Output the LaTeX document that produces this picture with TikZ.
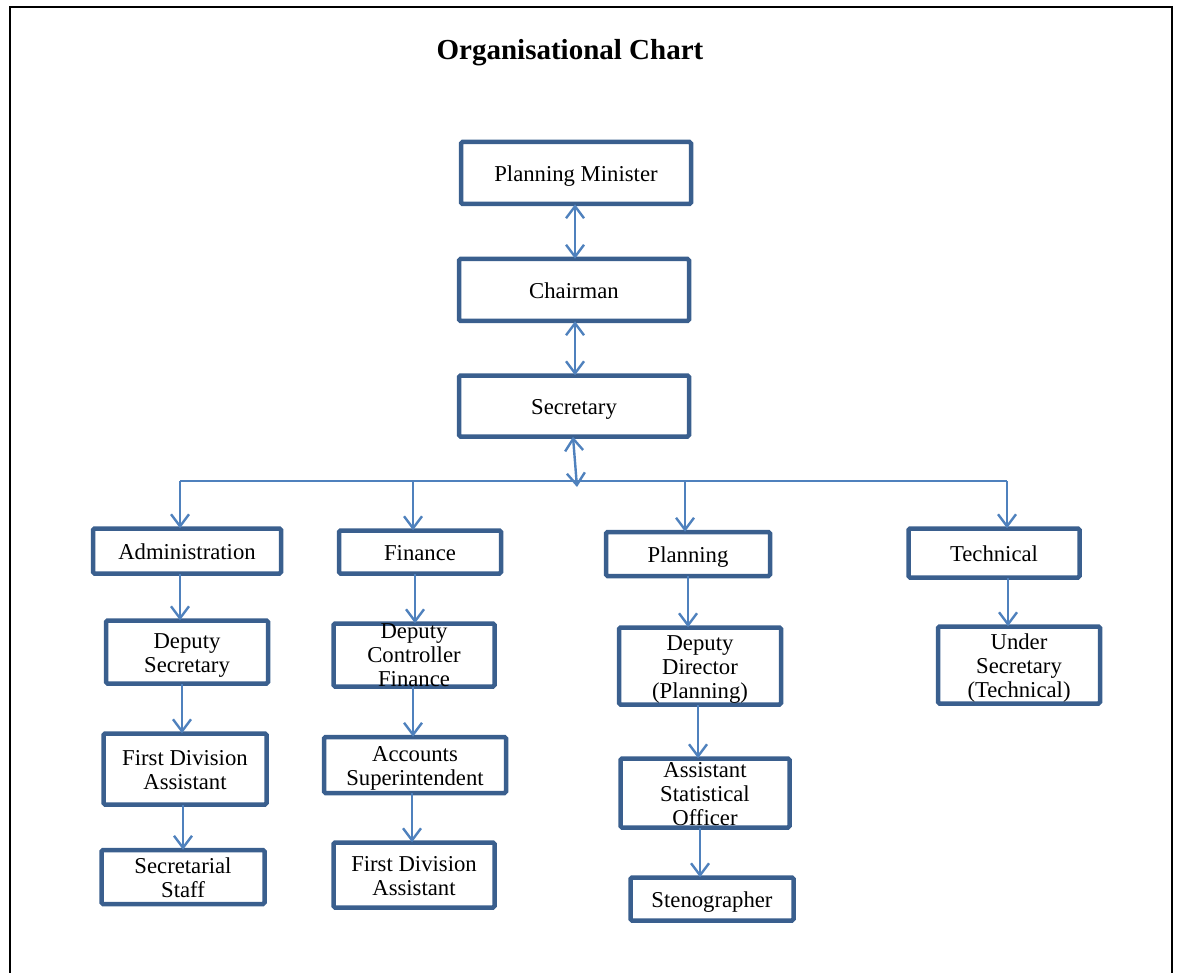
\documentclass[tikz,border=0pt]{standalone}
\usepackage{fontspec}
\setmainfont{Liberation Serif}
\usetikzlibrary{arrows.meta}
\definecolor{boxblue}{HTML}{3A5F8E}
\definecolor{arrblue}{HTML}{4F81BD}
\tikzset{
  boxbase/.style={draw=boxblue, line width=4.5pt, rounded corners=1.5pt, fill=white, inner sep=0pt,
    align=center, font=\fontsize{22.7}{24}\selectfont, text depth=0pt},
  box/.style={boxbase, text height=17pt},
  boxtwo/.style={boxbase, text height=41pt},
  boxthree/.style={boxbase, text height=65pt},
  conn/.style={draw=arrblue, line width=2.4pt},
  tipb/.tip={Straight Barb[length=12pt, width=18pt, line width=2.4pt]},
  arr/.style={conn, -tipb},
  darr/.style={conn, tipb-tipb},
}
\begin{document}
\begin{tikzpicture}[x=1pt, y=-1pt]
\useasboundingbox (0,0) rectangle (1180,973);
% frame
\draw[line width=2.5pt, black] (10,975) -- (10,7) -- (1172,7) -- (1172,975);
% title
\node (title) at (570,53) {\fontsize{29}{32}\selectfont\bfseries Organisational Chart};
% nodes
\node[box, minimum width=230, minimum height=62] (pm) at (576,173) {Planning Minister};
\node[box, minimum width=230, minimum height=62] (ch) at (574,290) {Chairman};
\node[box, minimum width=230, minimum height=61] (sec) at (574,406) {Secretary};
\node[box, minimum width=188, minimum height=45] (adm) at (187,551) {Administration};
\node[box, minimum width=162, minimum height=43] (fin) at (420,552) {Finance};
\node[box, minimum width=164, minimum height=44] (pln) at (688,554) {Planning};
\node[box, minimum width=171, minimum height=49] (tec) at (994,553) {Technical};
\node[boxtwo, minimum width=162, minimum height=63] (dsec) at (187,652) {Deputy\\Secretary};
\node[boxthree, text height=63pt, minimum width=161, minimum height=63] (dcf) at (414,655) {Deputy\\Controller\\Finance};
\node[boxthree, minimum width=162, minimum height=77] (ddp) at (700,666) {Deputy\\Director\\(Planning)};
\node[boxthree, minimum width=162, minimum height=77] (ust) at (1019,665) {Under\\Secretary\\(Technical)};
\node[boxtwo, minimum width=163, minimum height=71] (fda1) at (185,769) {First Division\\Assistant};
\node[boxtwo, minimum width=182, minimum height=56] (acs) at (415,765) {Accounts\\Superintendent};
\node[boxthree, minimum width=169, minimum height=69] (aso) at (705,793) {Assistant\\Statistical\\Officer};
\node[boxtwo, minimum width=163, minimum height=54] (ss) at (183,877) {Secretarial\\Staff};
\node[boxtwo, minimum width=161, minimum height=65] (fda2) at (414,875) {First Division\\Assistant};
\node[box, minimum width=163, minimum height=43] (sten) at (712,899) {Stenographer};
% top chain
\draw[darr] ([xshift=-1, yshift=2]pm.south) -- ([xshift=1, yshift=-2]ch.north);
\draw[darr] ([xshift=1, yshift=2]ch.south) -- ([xshift=1, yshift=-2]sec.north);
\coordinate (bj) at (577,487);
\draw[darr] ([xshift=-1, yshift=2]sec.south) -- (bj);
% bus
\coordinate (b1) at (180,481);
\coordinate (b2) at (413,481);
\coordinate (b3) at (685,481);
\coordinate (b4) at (1007,481);
\draw[conn] (b1) -- (b4);
\draw[arr] (b1) -- ([yshift=-2]b1 |- adm.north);
\draw[arr] (b2) -- ([yshift=-2]b2 |- fin.north);
\draw[arr] (b3) -- ([yshift=-2]b3 |- pln.north);
\draw[arr] (b4) -- ([yshift=-2]b4 |- tec.north);
% columns
\draw[arr] ([xshift=-7, yshift=2]adm.south) -- ([xshift=-7, yshift=-2]dsec.north);
\draw[arr] ([xshift=-5, yshift=2]dsec.south) -- ([xshift=-3, yshift=-2]fda1.north);
\draw[arr] ([xshift=-2, yshift=2]fda1.south) -- ([xshift=0, yshift=-2]ss.north);
\draw[arr] ([xshift=-5, yshift=2]fin.south) -- ([xshift=1, yshift=-2]dcf.north);
\draw[arr] ([xshift=-1, yshift=2]dcf.south) -- ([xshift=-2, yshift=-2]acs.north);
\draw[arr] ([xshift=-3, yshift=2]acs.south) -- ([xshift=-2, yshift=-2]fda2.north);
\draw[arr] ([xshift=0, yshift=2]pln.south) -- ([xshift=-12, yshift=-2]ddp.north);
\draw[arr] ([xshift=-2, yshift=2]ddp.south) -- ([xshift=-7, yshift=-2]aso.north);
\draw[arr] ([xshift=-5, yshift=2]aso.south) -- ([xshift=-12, yshift=-2]sten.north);
\draw[arr] ([xshift=14, yshift=2]tec.south) -- ([xshift=-11, yshift=-2]ust.north);
\end{tikzpicture}
\end{document}
